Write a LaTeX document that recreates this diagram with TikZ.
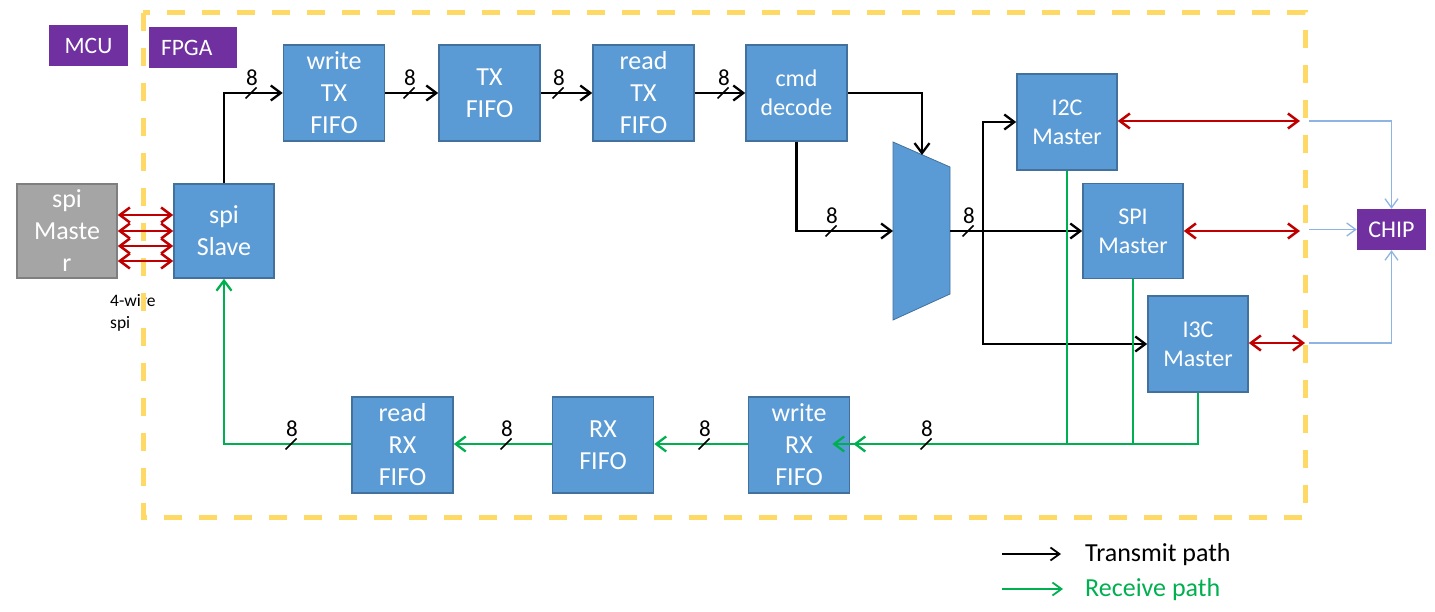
\documentclass[tikz,border=0pt]{standalone}
\usepackage{fontspec}
\setmainfont{Carlito}
\usetikzlibrary{arrows.meta}
\definecolor{boxblue}{HTML}{5B9BD5}
\definecolor{boxedge}{HTML}{41719C}
\definecolor{mcupurple}{HTML}{7030A0}
\definecolor{fpgayellow}{HTML}{FFD966}
\definecolor{rxgreen}{HTML}{00B050}
\definecolor{sigred}{HTML}{C00000}
\definecolor{chipblue}{HTML}{8EB4E3}
\definecolor{mastergray}{HTML}{A5A5A5}
\definecolor{grayedge}{HTML}{7F7F7F}
\tikzset{
  blk/.style={draw=boxedge, fill=boxblue, line width=1.6pt, text=white, inner sep=0pt, align=center,
    minimum width=101pt, minimum height=96pt, font=\fontsize{26}{32}\selectfont},
  blksm/.style={blk, font=\fontsize{24}{29}\selectfont},
  tag/.style={fill=mcupurple, text=white, inner sep=0pt, minimum height=41pt, font=\fontsize{23.5}{28}\selectfont},
  txline/.style={draw=black, line width=2.3pt, -{Straight Barb[length=10pt,width=15pt,line width=2.3pt]}},
  rxline/.style={draw=rxgreen, line width=2.3pt, -{Straight Barb[length=10pt,width=15pt,line width=2.3pt]}},
  rxplain/.style={draw=rxgreen, line width=2.3pt},
  redarr/.style={draw=sigred, line width=2.6pt, {Straight Barb[length=10pt,width=15pt,line width=2.5pt]}-{Straight Barb[length=10pt,width=15pt,line width=2.5pt]}},
  bluearr/.style={draw=chipblue, line width=1.3pt, -{Straight Barb[length=9pt,width=13pt,line width=1.3pt]}},
  slash/.style={draw=black, line width=1.7pt},
  buslbl/.style={font=\fontsize{23}{26}\selectfont, inner sep=0pt},
}
\newcommand\busmark[3]{%
  \draw[slash] (#2-5.5,#3+5.5) -- (#2+5.5,#3-5.5);
  \node[buslbl] (#1) at (#2+1,#3-15.5) {8};}
\begin{document}
\begin{tikzpicture}[x=1pt,y=-1pt]
\useasboundingbox (0,0) rectangle (1435,612);
\fill[white] (0,0) rectangle (1435,612);

% 4-wire label (under the dashed frame)
\node[anchor=west, align=left, inner sep=0pt, font=\fontsize{17.5}{22}\selectfont] (wirelbl) at (110,313) {4-wire\\spi};

% FPGA frame
\draw[fpgayellow, line width=5pt, dash pattern=on 18pt off 17pt] (143,13) rectangle (1305,517);

% tags
\node[tag, minimum width=79pt] (mcu) at (88.5,45.5) {MCU};
\node[tag, text width=64pt, inner xsep=12pt, align=left] (fpga) at (193,47.5) {FPGA};
\node[tag, minimum width=69pt, font=\fontsize{24}{29}\selectfont] (chip) at (1391.5,229.5) {CHIP};

% blocks
\node[blk, draw=grayedge, fill=mastergray, minimum width=100pt, minimum height=94pt] (spim) at (67,231) {spi\\Maste\\r};
\node[blk, minimum width=100pt, minimum height=94pt] (slave) at (224,231) {spi\\Slave};
\node[blk] (wtx) at (334,93) {write\\TX\\FIFO};
\node[blk] (txf) at (489.5,93) {TX\\FIFO};
\node[blk] (rtx) at (643.5,93) {read\\TX\\FIFO};
\node[blksm] (cmd) at (796.5,93) {cmd\\decode};
\node[blksm, minimum width=100pt] (i2c) at (1067,122) {I2C\\Master};
\node[blksm, minimum width=100pt, minimum height=95pt] (spimst) at (1133,231) {SPI\\Master};
\node[blksm, minimum width=100pt] (i3c) at (1198,344) {I3C\\Master};
\node[blk] (rrx) at (402.5,445) {read\\RX\\FIFO};
\node[blk] (rxf) at (603,445) {RX\\FIFO};
\node[blk] (wrx) at (799,445) {write\\RX\\FIFO};

% mux
\coordinate (muxtl) at (893,142);
\coordinate (muxtr) at (950,167);
\coordinate (muxbr) at (950,294);
\coordinate (muxbl) at (893,320);
\draw[fill=boxblue, draw=boxedge, line width=0.8pt] (muxtl) -- (muxtr) -- (muxbr) -- (muxbl) -- cycle;
\coordinate (muxsel) at (922,155);
\coordinate (muxin) at (893,231);
\coordinate (muxout) at (950,231);
\coordinate (br) at (983,231);

% SPI links master <-> slave
\foreach \yy in {215,231,246,261}{
  \draw[redarr] (spim.east |- 0,\yy) -- (slave.west |- 0,\yy);
}

% transmit path
\draw[txline] (slave.north) |- (wtx.west);
\draw[txline] (wtx.east) -- (txf.west);
\draw[txline] (txf.east) -- (rtx.west);
\draw[txline] (rtx.east) -- (cmd.west);
\draw[txline] (cmd.east) -| (muxsel);
\draw[txline] (cmd.south) |- (muxin);
\draw[txline] (muxout) -- (muxout -| spimst.west);
\draw[txline] (br) |- (i2c.west);
\draw[txline] (br) |- (i3c.west);

\busmark{b1}{251}{93}
\busmark{b2}{409}{93}
\busmark{b3}{558}{93}
\busmark{b4}{723}{93}
\busmark{b5}{831}{231}
\busmark{b6}{968}{231}

% receive path
\draw[rxplain] (i2c.south) -- (i2c.south |- 0,444);
\draw[rxplain] (spimst.south) -- (spimst.south |- 0,444);
\draw[draw=rxgreen, line width=2.3pt, -{Straight Barb[length=10pt,width=15pt,line width=2.3pt,sep=8pt]Straight Barb[length=10pt,width=15pt,line width=2.3pt]}] (i3c.south) |- ([xshift=-18pt]wrx.east |- 0,444);
\draw[rxline] (wrx.west |- 0,444) -- (rxf.east |- 0,444);
\draw[rxline] (rxf.west |- 0,444) -- (rrx.east |- 0,444);
\draw[rxline] (rrx.west |- 0,444) -| (slave.south);

\busmark{b7}{291}{444}
\busmark{b8}{506}{444}
\busmark{b9}{704}{444}
\busmark{b10}{926}{444}

% to chip
\coordinate (p1) at (1300,121);
\coordinate (p2) at (1300,231);
\coordinate (p3) at (1305,343);
\coordinate (q1) at (1309,121);
\coordinate (q2) at (1309,229.5);
\coordinate (q3) at (1309,343);
\draw[redarr] (i2c.east |- p1) -- (p1);
\draw[redarr] (spimst.east |- p2) -- (p2);
\draw[redarr] (i3c.east |- p3) -- (p3);
\draw[bluearr] (q1) -| (chip.north);
\draw[bluearr] (q2) -- (chip.west);
\draw[bluearr] (q3) -| (chip.south);

% legend
\coordinate (l1a) at (1002,554);
\coordinate (l1b) at (1061,554);
\coordinate (l2a) at (1002,589);
\coordinate (l2b) at (1063,589);
\draw[draw=black, line width=1.8pt, -{Straight Barb[length=9pt,width=13pt,line width=1.8pt]}] (l1a) -- (l1b);
\draw[draw=rxgreen, line width=1.8pt, -{Straight Barb[length=9pt,width=13pt,line width=1.8pt]}] (l2a) -- (l2b);
\node[anchor=west, inner sep=0pt, font=\fontsize{26}{32}\selectfont] (legtx) at (1085,555) {Transmit path};
\node[anchor=west, inner sep=0pt, text=rxgreen, font=\fontsize{26}{32}\selectfont] (legrx) at (1085,590) {Receive path};
\end{tikzpicture}
\end{document}
